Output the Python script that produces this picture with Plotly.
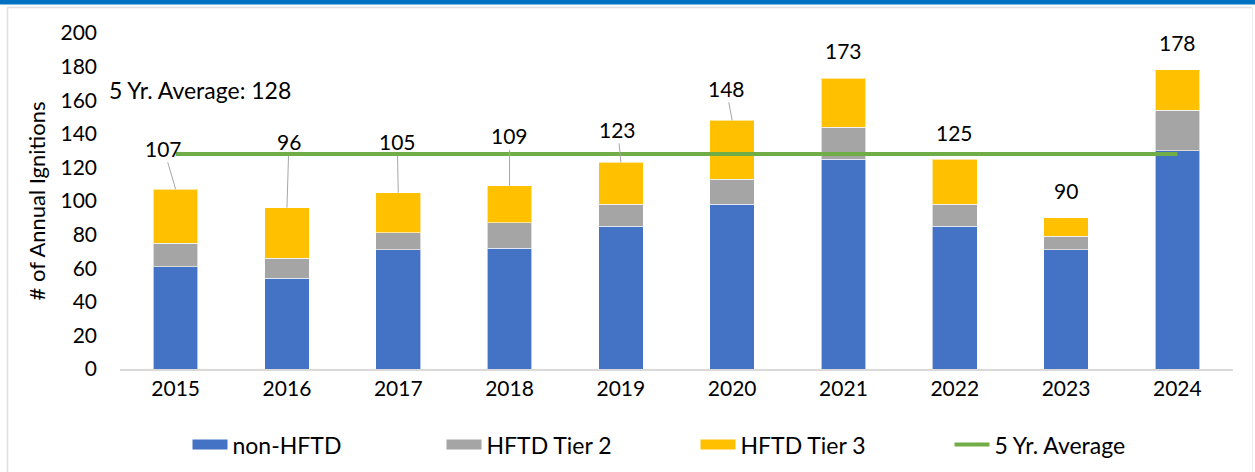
import plotly.graph_objects as go

years = ["2015", "2016", "2017", "2018", "2019", "2020", "2021", "2022", "2023", "2024"]
non_hftd = [61, 54, 71, 72, 85, 98, 125, 85, 71, 130]
hftd_tier2 = [14, 12, 10, 15, 13, 15, 19, 13, 8, 24]
hftd_tier3 = [32, 30, 24, 22, 25, 35, 29, 27, 11, 24]
five_yr_avg = 128
y_ticks = [0, 20, 40, 60, 80, 100, 120, 140, 160, 180, 200]

# label placement (pixel offsets of the total labels relative to bar tops)
label_dx = [-12, 2, -1, 0, -3, -6, 0, 0, 0, 0]
label_dy = [-41, -66, -51, -50, -33, -32, -28, -27, -27, -27]
label_leader = [True, True, True, True, True, True, False, False, False, False]

FONT = "Lato"
BLUE = "#4472C4"
GRAY = "#A5A5A5"
GOLD = "#FFC000"
GREEN = "#70AD47"

series = [("non-HFTD", non_hftd, BLUE),
          ("HFTD Tier 2", hftd_tier2, GRAY),
          ("HFTD Tier 3", hftd_tier3, GOLD)]

fig = go.Figure()
for name, vals, col in series:
    fig.add_trace(go.Bar(x=years, y=vals, name=name, marker_color=col,
                         marker_line=dict(color="rgba(255,255,255,0.6)", width=1),
                         width=0.4, showlegend=False, legendgroup=name))
# legend entries drawn as wide swatches (legend only, no data)
for name, vals, col in series:
    fig.add_trace(go.Scatter(x=[None], y=[None], mode="lines", name=name,
                             legendgroup=name, line=dict(color=col, width=12)))

fig.add_trace(go.Scatter(x=years, y=[five_yr_avg] * len(years), mode="lines",
                         name="5 Yr. Average", line=dict(color=GREEN, width=4)))

totals = [a + b + c for a, b, c in zip(non_hftd, hftd_tier2, hftd_tier3)]
annotations = []
for i, (tot, dx, dy, lead) in enumerate(zip(totals, label_dx, label_dy, label_leader)):
    if lead:
        annotations.append(dict(x=i, y=tot, xref="x", yref="y", text=str(tot),
                                showarrow=True, ax=dx, ay=dy, arrowhead=0,
                                arrowwidth=1, arrowcolor="#A6A6A6", standoff=0,
                                font=dict(family=FONT, size=21, color="#000000")))
    else:
        annotations.append(dict(x=i, y=tot, xref="x", yref="y", text=str(tot),
                                showarrow=False, xshift=dx, yshift=-dy,
                                font=dict(family=FONT, size=21, color="#000000")))

annotations.append(dict(x=(107 - 120) / 1113, y=(369 - 90) / 336, xref="paper", yref="paper",
                        xanchor="left", yanchor="middle", showarrow=False,
                        text=f"5 Yr. Average: {five_yr_avg}",
                        font=dict(family=FONT, size=23, color="#000000")))

shapes = [
    # top blue band
    dict(type="rect", xref="paper", yref="paper", x0=-0.2, x1=1.1,
         y0=(369 - 4.5) / 336, y1=(369 + 5) / 336, fillcolor="#0070C0", line_width=0),
    # light frame lines
    dict(type="line", xref="paper", yref="paper", x0=(7.5 - 120) / 1113, x1=(1252 - 120) / 1113,
         y0=(369 - 7.5) / 336, y1=(369 - 7.5) / 336, line=dict(color="#E0E0E0", width=1.5)),
    dict(type="line", xref="paper", yref="paper", x0=(7.5 - 120) / 1113, x1=(7.5 - 120) / 1113,
         y0=(369 - 7.5) / 336, y1=(369 - 480) / 336, line=dict(color="#E0E0E0", width=1.5)),
    dict(type="line", xref="paper", yref="paper", x0=(1252.5 - 120) / 1113, x1=(1252.5 - 120) / 1113,
         y0=(369 - 7.5) / 336, y1=(369 - 480) / 336, line=dict(color="#EEEEEE", width=1)),
]

fig.update_layout(
    width=1255, height=472,
    margin=dict(l=120, r=22, t=33, b=103, autoexpand=False),
    barmode="stack",
    plot_bgcolor="white", paper_bgcolor="white",
    font=dict(family=FONT, size=21, color="#000000"),
    showlegend=True,
    legend=dict(orientation="h", x=(187.5 - 120) / 1113, xanchor="left",
                y=-0.161, yanchor="top",
                traceorder="normal", font=dict(family=FONT, size=23),
                entrywidth=204, itemwidth=35),
    annotations=annotations,
    shapes=shapes,
    xaxis=dict(type="category", range=[-0.5, 9.5], showline=True, linecolor="#D9D9D9",
               linewidth=1.5, ticks="", tickfont=dict(family=FONT, size=21),
               showgrid=False, automargin=False),
    yaxis=dict(range=[0, 200], tickvals=y_ticks, showgrid=False, zeroline=False,
               showline=False, ticks="", tickfont=dict(family=FONT, size=21), automargin=False,
               ticklabelstandoff=22,
               title=dict(text="# of Annual Ignitions", font=dict(family=FONT, size=22),
                          standoff=8)),
)

fig.write_html("out.html", config={"displayModeBar": False},
               post_script="document.body.style.margin='0';")
